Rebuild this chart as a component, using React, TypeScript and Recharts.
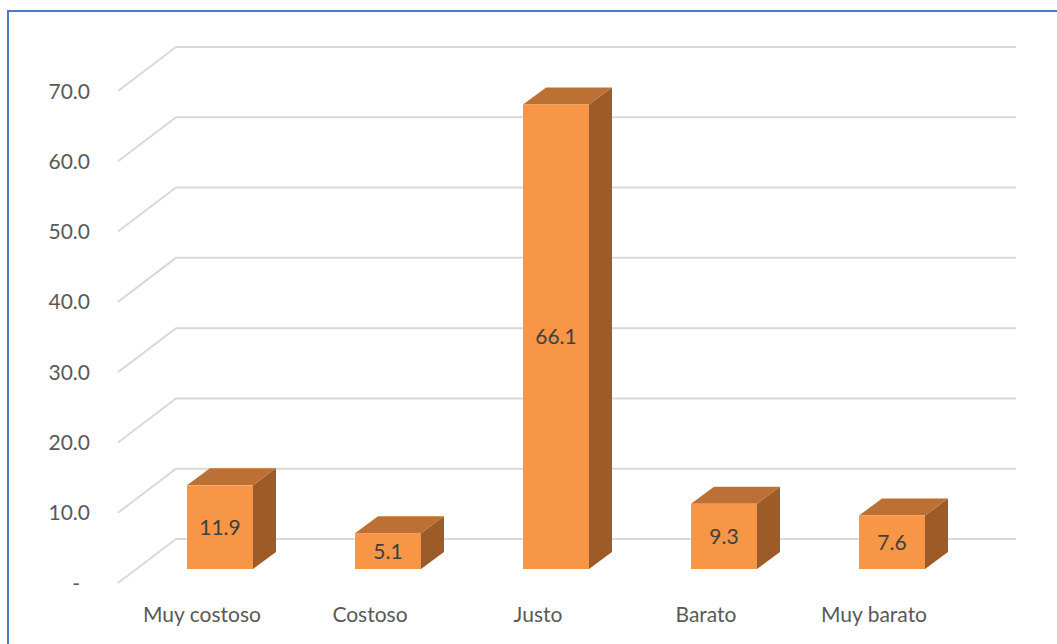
import React from 'react';
import { BarChart, Bar, XAxis, YAxis, CartesianGrid, LabelList } from 'recharts';

const categories = ['Muy costoso', 'Costoso', 'Justo', 'Barato', 'Muy barato'];
const percentages = [11.9, 5.1, 66.1, 9.3, 7.6];
const yTicks = [0, 10, 20, 30, 40, 50, 60, 70];

const data = categories.map((name, i) => ({ name, value: percentages[i] }));

// 3D offsets (pixels)
const WALL_DX = 58;
const WALL_DY = -44;
const BAR_DX = 18;
const BAR_DY = -14;
const DEPTH_DX = 23;
const DEPTH_DY = -17;

const FONT = 'Lato, "Open Sans", sans-serif';

const GridLine = (props: any) => {
  const { x1, y1, x2 } = props;
  const pts = `${x1},${y1} ${x1 + WALL_DX},${y1 + WALL_DY} ${x2 + WALL_DX},${y1 + WALL_DY}`;
  return <polyline key={props.key} points={pts} fill="none" stroke="#D9D9D9" strokeWidth={2} />;
};

const Box = (props: any) => {
  const { x, y, width, height } = props;
  const fx = x + BAR_DX;
  const fy = y + BAR_DY;
  const top = `${fx},${fy} ${fx + DEPTH_DX},${fy + DEPTH_DY} ${fx + width + DEPTH_DX},${fy + DEPTH_DY} ${fx + width},${fy}`;
  const side = `${fx + width},${fy} ${fx + width + DEPTH_DX},${fy + DEPTH_DY} ${fx + width + DEPTH_DX},${fy + height + DEPTH_DY} ${fx + width},${fy + height}`;
  return (
    <g>
      <polygon points={side} fill="#9D5B28" />
      <polygon points={top} fill="#BC7033" />
      <rect x={fx} y={fy} width={width} height={height} fill="#F79646" />
    </g>
  );
};

const BarLabel = (props: any) => {
  const { x, y, width, height, value } = props;
  return (
    <text
      x={x + width / 2 + BAR_DX}
      y={y + height / 2 + BAR_DY}
      dy="0.36em"
      textAnchor="middle"
      fill="#404040"
      fontSize={21}
      fontFamily={FONT}
    >
      {Number(value).toFixed(1)}
    </text>
  );
};

const YTick = (props: any) => {
  const { x, y, payload } = props;
  const v = payload.value;
  return (
    <text
      x={v === 0 ? x - 10 : x}
      y={y}
      dy="0.36em"
      textAnchor="end"
      fill="#595959"
      fontSize={21}
      fontFamily={FONT}
    >
      {v === 0 ? '-' : v.toFixed(1)}
    </text>
  );
};

const XTick = (props: any) => {
  const { x, y, payload } = props;
  return (
    <text x={x} y={y} dy={16} textAnchor="middle" fill="#595959" fontSize={21} fontFamily={FONT}>
      {payload.value}
    </text>
  );
};

export default function App() {
  return (
    <div style={{ position: 'absolute', left: 0, top: 0, width: 1057, height: 644, overflow: 'hidden', background: '#fff' }}>
      <div
        style={{
          position: 'absolute',
          left: 7,
          top: 10,
          width: 1200,
          height: 800,
          border: '2px solid #4A7BC4',
          boxSizing: 'border-box',
        }}
      />
      <div style={{ position: 'absolute', left: 0, top: 0 }}>
        <BarChart
          width={1057}
          height={644}
          data={data}
          margin={{ top: 91, right: 99, bottom: 0, left: 0 }}
          barSize={66}
        >
          <CartesianGrid vertical={false} horizontal={GridLine as any} />
          <XAxis
            dataKey="name"
            axisLine={false}
            tickLine={false}
            tickSize={0}
            tickMargin={23}
            height={61}
            tick={<XTick />}
            interval={0}
          />
          <YAxis
            domain={[0, 70]}
            ticks={yTicks}
            axisLine={false}
            tickLine={false}
            tickSize={0}
            tickMargin={28}
            width={118}
            tick={<YTick />}
            interval={0}
          />
          <Bar dataKey="value" shape={<Box />} isAnimationActive={false}>
            <LabelList dataKey="value" content={<BarLabel />} />
          </Bar>
        </BarChart>
      </div>
    </div>
  );
}
